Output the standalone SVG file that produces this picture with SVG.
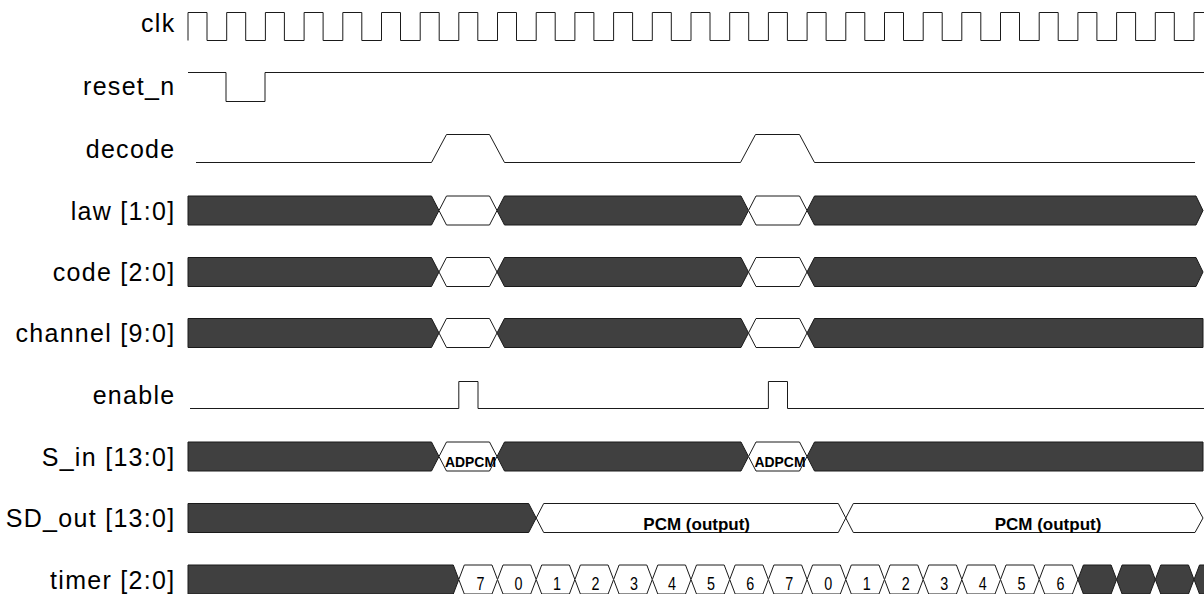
<svg xmlns="http://www.w3.org/2000/svg" xmlns:xlink="http://www.w3.org/1999/xlink" width="1204" height="594" viewBox="0 0 1204 594">
<style>
.lbl{font-family:"Liberation Sans",Arial,sans-serif;font-size:25px;letter-spacing:1.3px;text-anchor:end;fill:#000}
.wave{fill:none;stroke:#1a1a1a;stroke-width:1}
.d{fill:#404040;stroke:#1a1a1a;stroke-width:1;stroke-linejoin:miter}
.w{fill:#fff;stroke:#1a1a1a;stroke-width:1;stroke-linejoin:miter}
.bt{font-family:"Liberation Sans",Arial,sans-serif;font-weight:bold;fill:#000}
.dg{font-family:"Liberation Sans",Arial,sans-serif;font-size:17.5px;text-anchor:middle;fill:#000}
</style>
<defs>
<g id="busMid">
<path class="d" d="M188,0 H431.5 L439,14.5 L431.5,29 H188 Z"/>
<path class="w" d="M446.5,0 H489.5 L497,14.5 L489.5,29 H446.5 L439,14.5 Z"/>
<path class="d" d="M504.5,0 H741 L748.5,14.5 L741,29 H504.5 L497,14.5 Z"/>
<path class="w" d="M756,0 H799.5 L807,14.5 L799.5,29 H756 L748.5,14.5 Z"/>
</g>
<path id="endPoint" class="d" d="M814.5,0 H1196 L1203,14.5 L1196,29 H814.5 L807,14.5 Z"/>
<path id="endFlat" class="d" d="M814.5,0 H1203 V29 H814.5 L807,14.5 Z"/>
<path id="hx" d="M5.5,0 H33.2 L38.7,14.5 L33.2,29 H5.5 L0,14.5 Z"/>
</defs>

<g id="clk">
<text class="lbl" x="175.5" y="31.5">clk</text>
<path class="wave" d="M188,40.5 V12.5 H207 V40.5 H226.7 V12.5 H245.7 V40.5 H265.4 V12.5 H284.4 V40.5 H304.1 V12.5 H323.1 V40.5 H342.8 V12.5 H361.8 V40.5 H381.5 V12.5 H400.5 V40.5 H420.2 V12.5 H439.2 V40.5 H458.8 V12.5 H477.8 V40.5 H497.5 V12.5 H516.5 V40.5 H536.2 V12.5 H555.2 V40.5 H574.9 V12.5 H593.9 V40.5 H613.6 V12.5 H632.6 V40.5 H652.3 V12.5 H671.3 V40.5 H691 V12.5 H710 V40.5 H729.7 V12.5 H748.7 V40.5 H768.4 V12.5 H787.4 V40.5 H807.1 V12.5 H826.1 V40.5 H845.8 V12.5 H864.8 V40.5 H884.5 V12.5 H903.5 V40.5 H923.2 V12.5 H942.2 V40.5 H961.8 V12.5 H980.8 V40.5 H1000.5 V12.5 H1019.5 V40.5 H1039.2 V12.5 H1058.2 V40.5 H1077.9 V12.5 H1096.9 V40.5 H1116.6 V12.5 H1135.6 V40.5 H1155.3 V12.5 H1174.3 V40.5 H1194 V12.5 H1204"/>
</g>

<g id="reset_n">
<text class="lbl" x="175.5" y="95">reset_n</text>
<path class="wave" d="M188,72.5 H226 V101.5 H265 V72.5 H1204"/>
</g>

<g id="decode">
<text class="lbl" x="175.5" y="157.5">decode</text>
<path class="wave" d="M196,162.5 H431.5 L446.5,134.5 H489.5 L504.5,162.5 H740.5 L755.5,134.5 H799.5 L814.5,162.5 H1195"/>
</g>

<g id="law" transform="translate(0,196)">
<text class="lbl" x="175.5" y="23.5">law [1:0]</text>
<use xlink:href="#busMid"/>
<use xlink:href="#endPoint"/>
</g>

<g id="code" transform="translate(0,257.5)">
<text class="lbl" x="175.5" y="23.5">code [2:0]</text>
<use xlink:href="#busMid"/>
<use xlink:href="#endPoint"/>
</g>

<g id="channel" transform="translate(0,318.5)">
<text class="lbl" x="175.5" y="23.5">channel [9:0]</text>
<use xlink:href="#busMid"/>
<use xlink:href="#endFlat"/>
</g>

<g id="enable">
<text class="lbl" x="175.5" y="404">enable</text>
<path class="wave" d="M190,408.5 H458.8 V381.5 H478 V408.5 H768.4 V381.5 H787.5 V408.5 H1204"/>
</g>

<g id="S_in" transform="translate(0,442)">
<text class="lbl" x="175.5" y="23.5">S_in [13:0]</text>
<use xlink:href="#busMid"/>
<use xlink:href="#endFlat"/>
<text class="bt" x="445" y="24.7" font-size="15.5" textLength="51" lengthAdjust="spacingAndGlyphs">ADPCM</text>
<text class="bt" x="754.5" y="24.7" font-size="15.5" textLength="51" lengthAdjust="spacingAndGlyphs">ADPCM</text>
</g>

<g id="SD_out" transform="translate(0,503.5)">
<text class="lbl" x="175.5" y="23.5">SD_out [13:0]</text>
<path class="d" d="M188,0 H528.7 L536.2,14.5 L528.7,29 H188 Z"/>
<path class="w" d="M543.7,0 H838.3 L845.8,14.5 L838.3,29 H543.7 L536.2,14.5 Z"/>
<path class="w" d="M853.3,0 H1195 L1203,14.5 L1195,29 H853.3 L845.8,14.5 Z"/>
<text class="bt" x="696.7" y="26.5" font-size="17" text-anchor="middle">PCM (output)</text>
<text class="bt" x="1048" y="26.5" font-size="17" text-anchor="middle">PCM (output)</text>
</g>

<g id="timer" transform="translate(0,565)">
<text class="lbl" x="175.5" y="23.5">timer [2:0]</text>
<path class="d" d="M188,0 H453.3 L458.8,14.5 L453.3,29 H188 Z"/>
<use xlink:href="#hx" x="458.8" class="w"/>
<use xlink:href="#hx" x="497.5" class="w"/>
<use xlink:href="#hx" x="536.2" class="w"/>
<use xlink:href="#hx" x="574.9" class="w"/>
<use xlink:href="#hx" x="613.6" class="w"/>
<use xlink:href="#hx" x="652.3" class="w"/>
<use xlink:href="#hx" x="691" class="w"/>
<use xlink:href="#hx" x="729.7" class="w"/>
<use xlink:href="#hx" x="768.4" class="w"/>
<use xlink:href="#hx" x="807.1" class="w"/>
<use xlink:href="#hx" x="845.8" class="w"/>
<use xlink:href="#hx" x="884.5" class="w"/>
<use xlink:href="#hx" x="923.2" class="w"/>
<use xlink:href="#hx" x="961.8" class="w"/>
<use xlink:href="#hx" x="1000.5" class="w"/>
<use xlink:href="#hx" x="1039.2" class="w"/>
<use xlink:href="#hx" x="1077.9" class="d"/>
<use xlink:href="#hx" x="1116.6" class="d"/>
<use xlink:href="#hx" x="1155.3" class="d"/>
<path class="d" d="M1199.5,0 H1205 V29 H1199.5 L1194,14.5 Z"/>
<text class="dg" transform="translate(480.5,24.5) scale(0.82,1)">7</text>
<text class="dg" transform="translate(518.6,24.5) scale(0.82,1)">0</text>
<text class="dg" transform="translate(557,24.5) scale(0.82,1)">1</text>
<text class="dg" transform="translate(595.5,24.5) scale(0.82,1)">2</text>
<text class="dg" transform="translate(634,24.5) scale(0.82,1)">3</text>
<text class="dg" transform="translate(672,24.5) scale(0.82,1)">4</text>
<text class="dg" transform="translate(711,24.5) scale(0.82,1)">5</text>
<text class="dg" transform="translate(750.3,24.5) scale(0.82,1)">6</text>
<text class="dg" transform="translate(789.3,24.5) scale(0.82,1)">7</text>
<text class="dg" transform="translate(828.2,24.5) scale(0.82,1)">0</text>
<text class="dg" transform="translate(866.7,24.5) scale(0.82,1)">1</text>
<text class="dg" transform="translate(905.7,24.5) scale(0.82,1)">2</text>
<text class="dg" transform="translate(944.2,24.5) scale(0.82,1)">3</text>
<text class="dg" transform="translate(982.7,24.5) scale(0.82,1)">4</text>
<text class="dg" transform="translate(1021.6,24.5) scale(0.82,1)">5</text>
<text class="dg" transform="translate(1060.4,24.5) scale(0.82,1)">6</text>
</g>
</svg>
